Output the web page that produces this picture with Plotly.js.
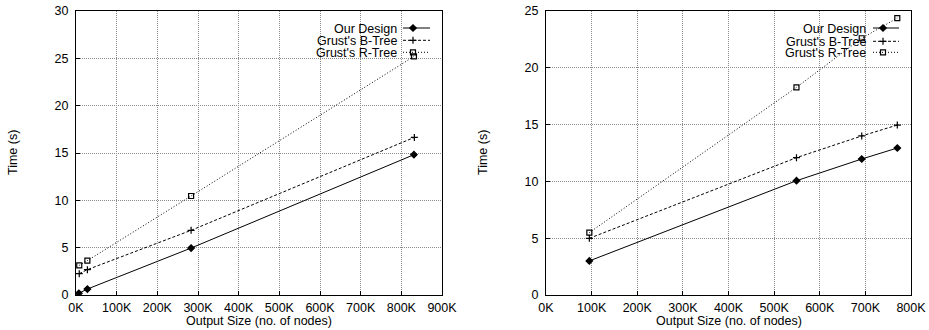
<!DOCTYPE html>
<html><head><meta charset="utf-8">
<script src="https://cdn.plot.ly/plotly-3.0.1.min.js"></script>
<style>html,body{margin:0;padding:0;background:#fff}#c{width:929px;height:330px}</style>
</head><body><div id="c"></div>
<script>
// Left chart (x in thousands of nodes, y in seconds)
const leftOurX = [7, 28, 283, 831];
const leftOurY = [0.18, 0.63, 4.96, 14.82];
const leftBX = [8, 28, 283, 832];
const leftBY = [2.25, 2.68, 6.83, 16.65];
const leftRX = [8, 28, 283, 831];
const leftRY = [3.13, 3.63, 10.46, 25.2];
// Right chart
const rightOurX = [95, 549, 692, 770];
const rightOurY = [3.0, 10.06, 11.97, 12.94];
const rightBX = [95, 549, 692, 770];
const rightBY = [4.99, 12.09, 14.0, 14.96];
const rightRX = [95, 549, 692, 770];
const rightRY = [5.49, 18.28, 22.6, 24.38];

const seriesNames = ["Our Design", "Grust's B-Tree", "Grust's R-Tree"];
const dashes = ["solid", "3px,2px", "1px,2px"];
const symbols = ["diamond", "cross-thin-open", "square-open"];
const msizes = [5, 5, 5];

const FONT = "Liberation Sans, Arial, Helvetica, sans-serif";
const FS = 12.5;
const W = 929, H = 330, T = 11, B = 35;
const plotTop = T, plotBot = H - B;

function tr(x, y, i, xa, ya) {
  return {x: x, y: y, xaxis: xa, yaxis: ya, mode: "lines+markers",
    line: {color: "#000", width: 1, dash: dashes[i]},
    marker: {symbol: symbols[i], size: msizes[i], color: "#000", line: {color: "#000", width: 1.2}},
    showlegend: false, hoverinfo: "skip"};
}

const data = [
  tr(leftOurX, leftOurY, 0, "x", "y"),
  tr(leftBX, leftBY, 1, "x", "y"),
  tr(leftRX, leftRY, 2, "x", "y"),
  tr(rightOurX, rightOurY, 0, "x2", "y2"),
  tr(rightBX, rightBY, 1, "x2", "y2"),
  tr(rightRX, rightRY, 2, "x2", "y2"),
];

const annotations = [];
function addKey(xa, ya, lineStart, lineEnd, markX, textRight, rows) {
  for (let i = 0; i < 3; i++) {
    data.push({x: [lineStart, lineEnd], y: [rows[i], rows[i]], xaxis: xa, yaxis: ya, mode: "lines",
      line: {color: "#000", width: 1, dash: dashes[i]}, showlegend: false, hoverinfo: "skip"});
    data.push({x: [markX], y: [rows[i]], xaxis: xa, yaxis: ya, mode: "markers",
      marker: {symbol: symbols[i], size: msizes[i], color: "#000", line: {color: "#000", width: 1.2}},
      showlegend: false, hoverinfo: "skip"});
    annotations.push({xref: xa, yref: ya, x: textRight, y: rows[i] + 0.5, text: seriesNames[i],
      xanchor: "right", yanchor: "middle", showarrow: false, font: {family: FONT, size: FS, color: "#000"}});
  }
}
addKey("x3", "y3", 403, 430, 413, 399, [28, 40.3, 52.3]);
addKey("x4", "y4", 873, 899, 883, 868, [28, 41.3, 52.3]);

function px2paper(x) { return x / W; }
const xTitleY = -(321 - plotBot) / (plotBot - plotTop);
[13, 483].forEach(x => annotations.push({xref: "paper", yref: "paper", x: px2paper(x), y: 0.5,
  text: "Time (s)", textangle: -90, showarrow: false, font: {family: FONT, size: FS, color: "#000"},
  xanchor: "center", yanchor: "middle"}));
[259, 729].forEach(x => annotations.push({xref: "paper", yref: "paper", x: px2paper(x), y: xTitleY,
  text: "Output Size (no. of nodes)", showarrow: false, font: {family: FONT, size: FS, color: "#000"},
  xanchor: "center", yanchor: "middle"}));

const d1 = [76 / W, 442 / W], d2 = [546 / W, 911 / W];
const common = {showline: true, mirror: true, linecolor: "#000", linewidth: 1,
  showgrid: true, gridcolor: "#8a8a8a", griddash: "1px,1px", gridwidth: 1, zeroline: false,
  ticks: "inside", ticklen: 4, tickcolor: "#000",
  tickfont: {family: FONT, size: FS, color: "#000"}, fixedrange: true};
function xax(dom, rng, dt, anchor) {
  return Object.assign({domain: dom, range: rng, dtick: dt, tick0: 0, ticksuffix: "K", anchor: anchor, ticklabelstandoff: 1}, common);
}
function yax(rng, dt, anchor) {
  return Object.assign({domain: [0, 1], range: rng, dtick: dt, tick0: 0, anchor: anchor, ticklabelstandoff: 4}, common);
}
const hidden = (dom, rng, anchor) => ({domain: dom, range: rng, visible: false, anchor: anchor, fixedrange: true});

const layout = {
  width: W, height: H,
  margin: {l: 0, r: 0, t: T, b: B},
  paper_bgcolor: "#fff", plot_bgcolor: "rgba(0,0,0,0)",
  showlegend: false,
  xaxis: xax(d1, [0, 900], 100, "y"),
  yaxis: yax([0, 30], 5, "x"),
  xaxis2: xax(d2, [0, 800], 100, "y2"),
  yaxis2: yax([0, 25], 5, "x2"),
  xaxis3: Object.assign(hidden(d1, [76, 442], "y3"), {overlaying: "x"}),
  yaxis3: Object.assign(hidden([0, 1], [plotBot, plotTop], "x3"), {overlaying: "y"}),
  xaxis4: Object.assign(hidden(d2, [546, 911], "y4"), {overlaying: "x2"}),
  yaxis4: Object.assign(hidden([0, 1], [plotBot, plotTop], "x4"), {overlaying: "y2"}),
  annotations: annotations,
  font: {family: FONT}
};

Plotly.newPlot("c", data, layout, {displayModeBar: false, staticPlot: true});
</script>
</body></html>
